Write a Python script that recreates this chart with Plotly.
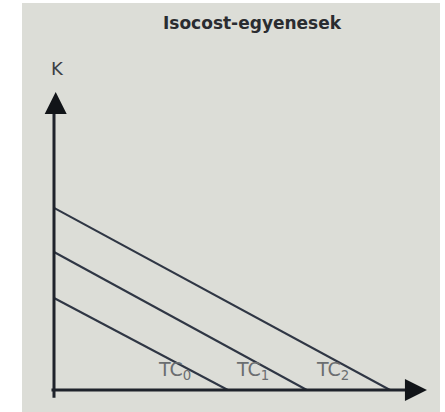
import plotly.graph_objects as go

# Data: isocost lines K = K0 - (K0/L0) * L
line_names = ["TC<sub>0</sub>", "TC<sub>1</sub>", "TC<sub>2</sub>"]
k_intercepts = [2.0, 3.0, 3.96]
l_intercepts = [2.07, 3.01, 4.0]
label_x = [1.43, 2.36, 3.31]
label_y = [0.42, 0.42, 0.42]

title_text = "Isocost-egyenesek"
y_axis_label = "K"

line_color = "#2f3644"
axis_color = "#1f232b"
text_grey = "#6b6e70"
bg_grey = "#dcddd7"

fig = go.Figure()

for k0, l0 in zip(k_intercepts, l_intercepts):
    fig.add_trace(go.Scatter(x=[0, l0], y=[k0, 0], mode="lines",
                             line=dict(color=line_color, width=2),
                             hoverinfo="skip", showlegend=False))

# axes (with arrows)
fig.add_trace(go.Scatter(x=[0, 0], y=[-0.17, 6.2], mode="lines",
                         line=dict(color=axis_color, width=3),
                         hoverinfo="skip", showlegend=False))
fig.add_trace(go.Scatter(x=[-0.03, 4.2], y=[0, 0], mode="lines",
                         line=dict(color=axis_color, width=3),
                         hoverinfo="skip", showlegend=False))
fig.add_trace(go.Scatter(x=[0.02], y=[6.48], mode="markers",
                         marker=dict(symbol="arrow-up", size=22, color="#111418",
                                     line=dict(width=0)),
                         hoverinfo="skip", showlegend=False))
fig.add_trace(go.Scatter(x=[4.44], y=[0], mode="markers",
                         marker=dict(symbol="arrow-right", size=22, color="#111418",
                                     line=dict(width=0)),
                         hoverinfo="skip", showlegend=False))

for name, lx, ly in zip(line_names, label_x, label_y):
    fig.add_annotation(x=lx, y=ly, text=name, showarrow=False,
                       font=dict(family="DejaVu Sans", size=19, color=text_grey))

fig.add_annotation(x=0.04, y=7.0, text=y_axis_label, showarrow=False,
                   xanchor="center", yanchor="middle",
                   font=dict(family="DejaVu Sans", size=18, color="#3c3f44"))

fig.add_annotation(xref="paper", yref="paper", x=252 / 445, y=1 - 23 / 412,
                   xanchor="center", yanchor="middle",
                   text="<b>" + title_text + "</b>", showarrow=False,
                   font=dict(family="DejaVu Sans", size=17, color="#2a2c30"))

fig.add_shape(type="rect", xref="paper", yref="paper",
              x0=22 / 445, x1=440 / 445, y0=0, y1=1 - 3 / 412,
              fillcolor=bg_grey, line=dict(width=0), layer="below")

fig.update_layout(
    width=445, height=412,
    margin=dict(l=0, r=0, t=0, b=0),
    paper_bgcolor="white", plot_bgcolor="rgba(0,0,0,0)",
    xaxis=dict(range=[-54 / 84, (445 - 54) / 84], visible=False, fixedrange=True),
    yaxis=dict(range=[-22 / 46, 390 / 46], visible=False, fixedrange=True),
    showlegend=False,
)

fig.write_html("out.html", config={"displayModeBar": False},
               post_script="document.body.style.margin='0';document.body.style.overflow='hidden';")
